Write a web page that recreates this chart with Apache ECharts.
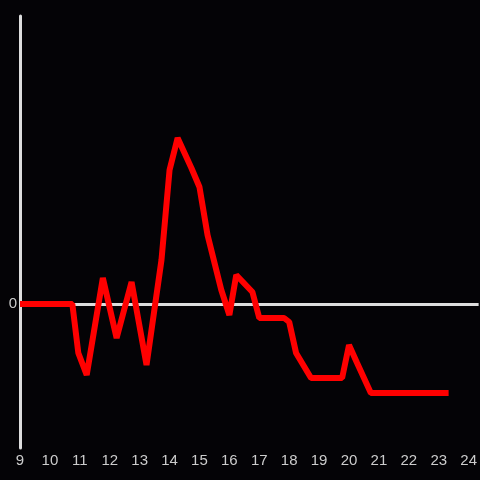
<!DOCTYPE html>
<html><head><meta charset="utf-8">
<script src="https://cdn.jsdelivr.net/npm/echarts@6/dist/echarts.min.js"></script>
<style>html,body{margin:0;padding:0;background:#040306;}#c{width:480px;height:480px;}</style>
</head><body><div id="c"></div>
<script>
var hours = [9, 10.75, 10.95, 11.23, 11.77, 12.23, 12.73, 13.23, 13.73, 14.0, 14.27, 14.73, 15.0, 15.27, 15.73, 16.0, 16.23, 16.77, 17.0, 17.83, 18.0, 18.23, 18.73, 19.77, 20.0, 20.27, 20.73, 23.33];
var values = [0, 0, -49, -71, 26, -34, 22, -61, 44, 134, 166, 136, 117, 69, 14, -11, 29, 12, -14, -14, -18, -49, -74, -74, -41, -59, -89, -89];
var xTicks = [9, 10, 11, 12, 13, 14, 15, 16, 17, 18, 19, 20, 21, 22, 23, 24];

var data = hours.map(function (h, i) { return [h, values[i]]; });
var chart = echarts.init(document.getElementById('c'));
chart.setOption({
  animation: false,
  backgroundColor: '#040306',
  grid: { left: 20, right: 0, top: 16, bottom: 32 },
  xAxis: {
    type: 'value', min: 9, max: 24 + 1/3, interval: 1,
    axisLine: { show: false }, axisTick: { show: false }, splitLine: { show: false },
    axisLabel: {
      color: '#cccccc', fontSize: 15, fontFamily: 'Liberation Sans, Arial, sans-serif', margin: 5,
      showMaxLabel: false,
      formatter: function (v) { return xTicks.indexOf(v) >= 0 ? String(v) : ''; }
    }
  },
  yAxis: {
    type: 'value', min: -144, max: 288, interval: 144,
    axisLine: { show: true, lineStyle: { color: '#dddddd', width: 3 } },
    axisTick: { show: false }, splitLine: { show: false },
    axisLabel: {
      color: '#cccccc', fontSize: 15, fontFamily: 'Liberation Sans, Arial, sans-serif', margin: 3,
      formatter: function (v) { return v === 0 ? '0' : ''; }
    }
  },
  series: [
    {
      type: 'line', data: [], z: 1, silent: true,
      markLine: {
        symbol: 'none', silent: true, label: { show: false },
        lineStyle: { color: '#dddddd', width: 3, type: 'solid' },
        data: [{ yAxis: 0 }]
      }
    },
    {
      type: 'line', data: data, z: 5, showSymbol: false,
      lineStyle: { color: '#ff0000', width: 6, join: 'bevel' },
      itemStyle: { color: '#ff0000' }
    }
  ]
});
</script></body></html>
